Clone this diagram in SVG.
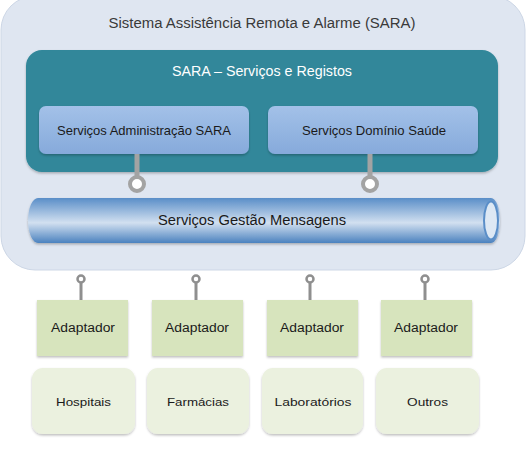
<svg xmlns="http://www.w3.org/2000/svg" width="527" height="451" viewBox="0 0 527 451">
<defs>
<linearGradient id="gBlue" x1="0" y1="0" x2="0" y2="1">
<stop offset="0" stop-color="#a3c1e8"/>
<stop offset="1" stop-color="#86aadb"/>
</linearGradient>
<linearGradient id="gPipe" x1="0" y1="0" x2="0" y2="1">
<stop offset="0" stop-color="#5a8ec8"/>
<stop offset="0.55" stop-color="#d2e0f0"/>
<stop offset="1" stop-color="#4b82bf"/>
</linearGradient>
<filter id="sh" x="-10%" y="-10%" width="120%" height="130%">
<feDropShadow dx="0" dy="1.5" stdDeviation="1.2" flood-color="#000" flood-opacity="0.25"/>
</filter>
</defs>
<style>
text{font-family:"Liberation Sans",Arial,sans-serif;text-anchor:middle;dominant-baseline:central}
.t1{font-size:14px;fill:#3a3a3a}
.tw{font-size:14px;fill:#ffffff}
.tb{font-size:13px;fill:#1a1a1a}
.ta{font-size:12px;fill:#1a1a1a}
.tc{font-size:11.5px;fill:#1a1a1a}
.adp{fill:#d7e4bd;filter:url(#sh)}
.org{fill:#ebf1df;filter:url(#sh)}
.svc{fill:url(#gBlue);filter:url(#sh)}
.bigline{stroke:#a3a3a3;stroke-width:5;fill:none}
.bigdot{fill:#ffffff;stroke:#a3a3a3;stroke-width:4}
.smline{stroke:#8f8f8f;stroke-width:3;fill:none}
.smdot{fill:#ffffff;stroke:#8f8f8f;stroke-width:2.5}
</style>
<rect width="527" height="451" fill="#ffffff"/>
<g id="sara">
<rect x="1" y="-4" width="524" height="274" rx="34" fill="#dfe6f1" stroke="#cdd7e6" stroke-width="1"/>
<text class="t1" x="262" y="23" textLength="307" lengthAdjust="spacingAndGlyphs">Sistema Assistência Remota e Alarme (SARA)</text>
</g>
<g id="registos">
<rect x="26" y="50" width="472" height="122" rx="16" fill="#31879a" filter="url(#sh)"/>
<text class="tw" x="262" y="71" textLength="180" lengthAdjust="spacingAndGlyphs">SARA – Serviços e Registos</text>
</g>
<g id="admin">
<rect class="svc" x="39" y="106" width="210" height="48" rx="7"/>
<text class="tb" x="144" y="130" textLength="174" lengthAdjust="spacingAndGlyphs">Serviços Administração SARA</text>
</g>
<g id="saude">
<rect class="svc" x="268" y="106" width="210" height="48" rx="7"/>
<text class="tb" x="374" y="130" textLength="144" lengthAdjust="spacingAndGlyphs">Serviços Domínio Saúde</text>
</g>
<g id="mensagens">
<path d="M38,198 H491 A9,22.5 0 0 1 491,243 H38 A10,22.5 0 0 1 38,198 Z" fill="url(#gPipe)" filter="url(#sh)"/>
<ellipse cx="491" cy="220.5" rx="7" ry="19" fill="#dde8f4" stroke="#5a8ec8" stroke-width="2"/>
<text class="t1" x="252" y="220" fill="#1a1a1a" style="fill:#1a1a1a" textLength="188" lengthAdjust="spacingAndGlyphs">Serviços Gestão Mensagens</text>
</g>
<g id="connectors">
<line class="bigline" x1="137" y1="154" x2="137" y2="176"/>
<circle class="bigdot" cx="137" cy="184" r="7"/>
<line class="bigline" x1="370" y1="154" x2="370" y2="176"/>
<circle class="bigdot" cx="370" cy="184" r="7"/>
<line class="smline" x1="81" y1="283" x2="81" y2="300"/>
<circle class="smdot" cx="81" cy="279" r="3.5"/>
<line class="smline" x1="196" y1="283" x2="196" y2="300"/>
<circle class="smdot" cx="196" cy="279" r="3.5"/>
<line class="smline" x1="310" y1="283" x2="310" y2="300"/>
<circle class="smdot" cx="310" cy="279" r="3.5"/>
<line class="smline" x1="425" y1="283" x2="425" y2="300"/>
<circle class="smdot" cx="425" cy="279" r="3.5"/>
</g>
<g id="adaptador1"><rect class="adp" x="37" y="300" width="91" height="56"/><text class="ta" x="83" y="328" textLength="64" lengthAdjust="spacingAndGlyphs">Adaptador</text></g>
<g id="adaptador2"><rect class="adp" x="152" y="300" width="91" height="56"/><text class="ta" x="197" y="328" textLength="64" lengthAdjust="spacingAndGlyphs">Adaptador</text></g>
<g id="adaptador3"><rect class="adp" x="267" y="300" width="91" height="56"/><text class="ta" x="312" y="328" textLength="64" lengthAdjust="spacingAndGlyphs">Adaptador</text></g>
<g id="adaptador4"><rect class="adp" x="381" y="300" width="91" height="56"/><text class="ta" x="426" y="328" textLength="64" lengthAdjust="spacingAndGlyphs">Adaptador</text></g>
<g id="hospitais"><rect class="org" x="32" y="368" width="103" height="66" rx="11"/><text class="tc" x="83.5" y="402" textLength="55" lengthAdjust="spacingAndGlyphs">Hospitais</text></g>
<g id="farmacias"><rect class="org" x="147" y="368" width="102" height="66" rx="11"/><text class="tc" x="198" y="402" textLength="62" lengthAdjust="spacingAndGlyphs">Farmácias</text></g>
<g id="laboratorios"><rect class="org" x="262" y="368" width="101" height="66" rx="11"/><text class="tc" x="313" y="402" textLength="77" lengthAdjust="spacingAndGlyphs">Laboratórios</text></g>
<g id="outros"><rect class="org" x="376" y="368" width="103" height="66" rx="11"/><text class="tc" x="427.5" y="402" textLength="41" lengthAdjust="spacingAndGlyphs">Outros</text></g>
</svg>
